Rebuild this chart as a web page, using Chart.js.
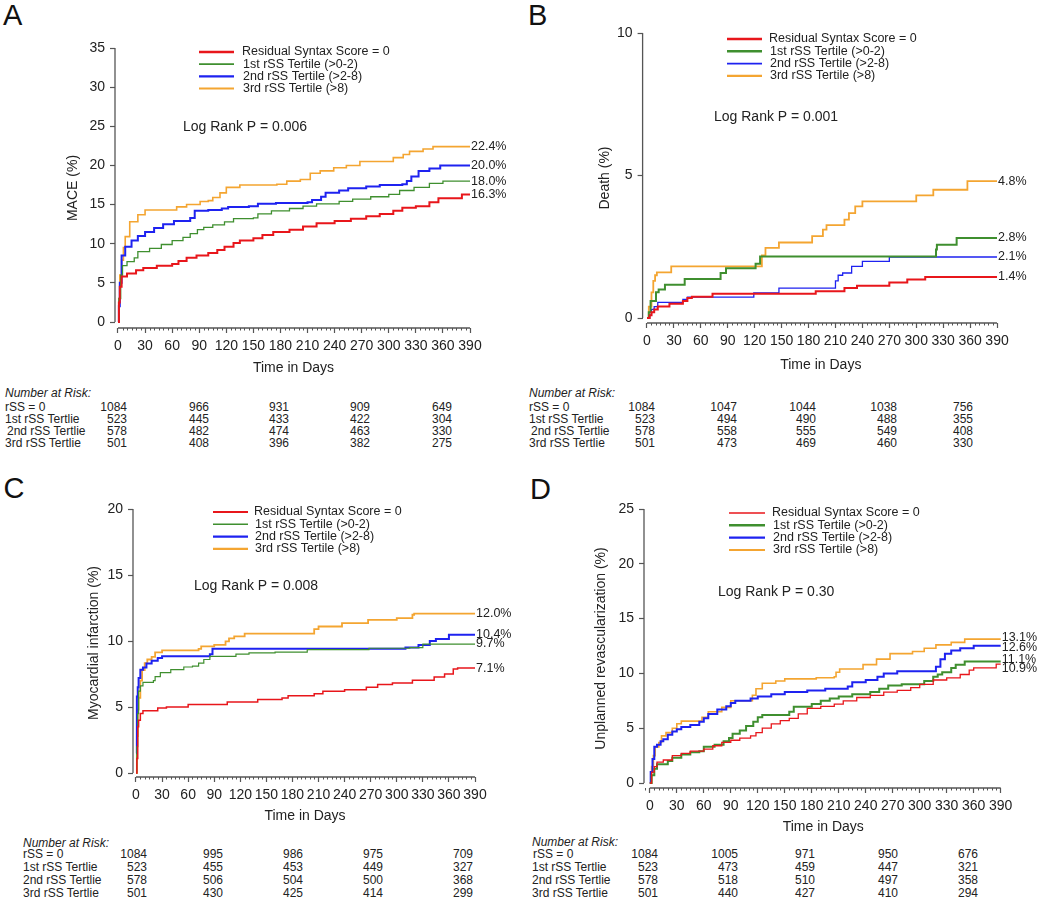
<!DOCTYPE html>
<html><head><meta charset="utf-8">
<script src="https://cdn.jsdelivr.net/npm/chart.js@4.4.1/dist/chart.umd.min.js"></script>
<style>
html,body{margin:0;padding:0;background:#fff;}
body{width:1050px;height:898px;position:relative;overflow:hidden;font-family:"Liberation Sans",Arial,sans-serif;color:#222;}
.abs{position:absolute;white-space:nowrap;}
.letter{font-size:29px;line-height:29px;color:#111;}
.rt{font-size:12px;line-height:12px;}
.num{text-align:right;width:60px;}
canvas{position:absolute;}
</style></head><body>
<script>
// ---------------- DATA ----------------
const seriesNames = ['Residual Syntax Score = 0', '1st rSS Tertile (>0-2)', '2nd rSS Tertile (>2-8)', '3rd rSS Tertile (>8)'];
const riskRowLabels = ['rSS = 0', '1st rSS Tertlie', '2nd rSS Tertlie', '3rd rSS Tertlie'];
const xTickStep = 30;

// Panel A: MACE (%)  [day, cumulative %]
const maceRss0 = [[0,0],[1,2.5],[2,4.5],[4,5.8],[10,6.2],[20,6.6],[28,6.9],[43,7.2],[60,7.4],[67,7.8],[76,8.2],[87,8.5],[100,8.8],[110,9.2],[118,9.6],[128,10.1],[135,10.4],[150,10.7],[160,11.1],[172,11.5],[190,11.8],[205,12.2],[220,12.6],[240,12.9],[258,13.2],[275,13.5],[290,13.8],[305,14.2],[315,14.6],[330,14.8],[345,15.3],[355,15.8],[381,16.3],[390,16.3]];
const maceT1 = [[0,0],[1,3],[3,6],[5,7.2],[10,7.7],[18,8.2],[22,9.0],[35,9.4],[48,9.9],[60,10.4],[72,10.8],[80,11.3],[88,11.8],[95,12.1],[105,12.4],[118,12.8],[128,13.2],[150,13.3],[155,13.8],[170,14.2],[190,14.5],[205,14.8],[220,15.1],[245,15.4],[260,15.7],[280,16.0],[300,16.3],[312,16.8],[328,17.2],[345,17.7],[360,18.0],[390,18.0]];
const maceT2 = [[0,0],[1,2],[2,5],[4,8.5],[8,9.6],[15,10.4],[22,11.0],[30,11.5],[40,12.0],[50,12.5],[62,12.9],[80,13.3],[85,14.2],[100,14.3],[115,14.5],[122,14.7],[145,14.8],[155,15.1],[175,15.2],[210,15.3],[215,15.6],[225,16.0],[230,16.5],[245,16.8],[255,17.1],[275,17.3],[290,17.5],[315,17.6],[320,18.0],[325,18.6],[333,19.3],[345,19.6],[357,20.0],[390,20.0]];
const maceT3 = [[0,0],[1,3],[2,6],[4,7.9],[6,9.5],[8,10.9],[13,12.8],[22,13.7],[30,14.3],[60,14.3],[65,14.7],[76,15.0],[91,15.4],[100,15.5],[105,15.9],[113,16.5],[120,17.2],[135,17.5],[176,17.6],[187,18.0],[202,18.2],[213,19.0],[224,19.3],[239,19.7],[253,20.0],[268,20.5],[294,20.5],[305,21.0],[316,21.4],[323,21.8],[338,22.1],[349,22.4],[390,22.4]];
const maceEndLabels = ['16.3%', '18.0%', '20.0%', '22.4%'];
const maceRisk0 = [1084, 966, 931, 909, 649];
const maceRisk1 = [523, 445, 433, 422, 304];
const maceRisk2 = [578, 482, 474, 463, 330];
const maceRisk3 = [501, 408, 396, 382, 275];

// Panel B: Death (%)
const deathRss0 = [[0,0],[3,0.1],[5,0.2],[8,0.3],[12,0.4],[25,0.5],[40,0.6],[45,0.7],[50,0.75],[73,0.85],[188,0.94],[220,1.05],[234,1.13],[270,1.25],[290,1.35],[310,1.44],[390,1.44]];
const deathT1 = [[0,0],[2,0.2],[4,0.6],[10,0.9],[13,1.0],[20,1.17],[42,1.37],[82,1.58],[88,1.75],[121,1.9],[126,2.16],[322,2.4],[323,2.57],[345,2.81],[390,2.81]];
const deathT2 = [[0,0],[3,0.1],[5,0.3],[8,0.4],[12,0.55],[40,0.65],[45,0.73],[119,0.88],[147,1.05],[210,1.3],[213,1.5],[218,1.58],[228,1.81],[240,1.99],[270,2.14],[390,2.14]];
const deathT3 = [[0,0],[2,0.4],[5,0.9],[7,1.3],[9,1.5],[11,1.6],[27,1.81],[125,1.81],[128,2.2],[132,2.46],[147,2.65],[184,2.87],[196,3.1],[200,3.26],[220,3.45],[225,3.68],[232,3.92],[240,4.09],[300,4.3],[319,4.5],[357,4.8],[390,4.8]];
const deathEndLabels = ['1.4%', '2.8%', '2.1%', '4.8%'];
const deathRisk0 = [1084, 1047, 1044, 1038, 756];
const deathRisk1 = [523, 494, 490, 488, 355];
const deathRisk2 = [578, 558, 555, 549, 408];
const deathRisk3 = [501, 473, 469, 460, 330];

// Panel C: Myocardial infarction (%)
const miRss0 = [[0,0],[1,1.1],[2,3.5],[3,4.0],[5,4.5],[8,4.72],[25,4.92],[35,5.0],[60,5.18],[105,5.38],[140,5.56],[168,5.68],[175,5.86],[205,6.0],[215,6.19],[240,6.31],[265,6.5],[278,6.7],[295,6.82],[318,7.02],[343,7.27],[355,7.5],[365,7.88],[370,7.95],[390,7.95]];
const miT1 = [[0,0],[1,2],[2,4.5],[3,6.2],[5,6.6],[8,6.87],[20,7.0],[22,7.3],[28,7.6],[40,7.83],[55,8.03],[65,8.1],[72,8.33],[78,8.6],[85,8.84],[115,9.0],[130,9.1],[160,9.15],[197,9.34],[268,9.45],[315,9.5],[330,9.77],[390,9.77]];
const miT2 = [[0,1.5],[1,5.8],[2,6.5],[3,7.2],[5,7.83],[8,8.0],[12,8.3],[18,8.5],[25,8.71],[30,8.85],[85,9.0],[88,9.42],[310,9.5],[325,9.7],[338,10.0],[345,10.15],[360,10.47],[390,10.47]];
const miT3 = [[0,0],[1,2.8],[2,4.8],[3,5.7],[5,7.0],[7,7.8],[10,8.33],[13,8.6],[18,8.8],[22,9.14],[30,9.29],[72,9.4],[75,9.6],[90,9.7],[103,9.97],[107,10.2],[113,10.35],[125,10.56],[205,10.9],[210,11.1],[237,11.36],[267,11.6],[300,11.74],[318,11.99],[320,12.07],[390,12.07]];
const miEndLabels = ['7.1%', '9.7%', '10.4%', '12.0%'];
const miRisk0 = [1084, 995, 986, 975, 709];
const miRisk1 = [523, 455, 453, 449, 327];
const miRisk2 = [578, 506, 504, 500, 368];
const miRisk3 = [501, 430, 425, 414, 299];

// Panel D: Unplanned revascularization (%)
const revRss0 = [[0,0],[2,1.0],[5,1.5],[8,1.9],[15,2.1],[25,2.5],[35,2.7],[45,2.9],[60,3.1],[70,3.4],[80,3.7],[90,3.9],[100,4.1],[112,4.3],[118,4.6],[125,5.0],[135,5.4],[145,5.7],[155,5.9],[165,6.3],[175,6.8],[190,7.0],[205,7.2],[215,7.5],[230,7.8],[245,8.0],[260,8.3],[275,8.45],[290,8.7],[300,9.0],[315,9.4],[330,9.6],[345,9.9],[355,10.3],[360,10.5],[385,10.85],[390,10.85]];
const revT1 = [[0,0],[2,0.7],[5,1.3],[8,1.7],[20,2.0],[25,2.3],[35,2.6],[45,2.8],[55,2.9],[60,3.3],[72,3.5],[82,3.8],[88,4.1],[92,4.5],[100,4.8],[107,5.2],[115,5.6],[120,6.0],[125,6.2],[155,6.5],[160,6.95],[180,7.2],[190,7.5],[200,7.7],[210,7.9],[225,8.1],[245,8.3],[255,8.6],[265,8.9],[280,9.0],[305,9.3],[315,9.7],[320,9.9],[325,10.1],[335,10.5],[340,10.8],[350,11.09],[390,11.09]];
const revT2 = [[0,0],[1,1.0],[3,2.2],[5,3.3],[8,3.5],[12,3.8],[15,4.0],[20,4.4],[25,4.7],[30,4.9],[35,5.1],[45,5.3],[55,5.6],[60,5.9],[65,6.3],[75,6.7],[85,7.0],[90,7.3],[95,7.5],[112,7.7],[120,7.9],[135,8.1],[150,8.3],[175,8.45],[195,8.6],[220,8.8],[225,9.2],[240,9.4],[253,9.7],[260,10.0],[275,10.2],[318,10.6],[323,11.3],[328,11.8],[335,12.1],[345,12.3],[360,12.52],[390,12.52]];
const revT3 = [[0,0],[2,1.5],[4,2.5],[6,3.3],[10,3.7],[13,4.3],[18,4.6],[25,5.0],[30,5.4],[35,5.65],[58,6.0],[65,6.5],[80,6.9],[90,7.5],[114,8.0],[118,8.6],[125,9.1],[140,9.3],[150,9.5],[185,9.6],[205,9.7],[207,10.1],[211,10.4],[237,10.8],[252,11.3],[267,11.8],[292,12.0],[305,12.3],[318,12.6],[335,12.83],[350,13.13],[390,13.13]];
const revEndLabels = ['10.9%', '11.1%', '12.6%', '13.1%'];
const revRisk0 = [1084, 1005, 971, 950, 676];
const revRisk1 = [523, 473, 459, 447, 321];
const revRisk2 = [578, 518, 510, 497, 358];
const revRisk3 = [501, 440, 427, 410, 294];

// ---------------- STYLE / LAYOUT ----------------
const COLORS = ['#e8161b', '#3f8f2f', '#1e22f0', '#f4a531'];
const FONT = '"Liberation Sans", Arial, Helvetica, sans-serif';
const AXIS_COLOR = '#555';
const TEXT_COLOR = '#222';

const panels = [
  { letter:'A', letterPos:[3,0.5],
    series:[maceRss0, maceT1, maceT2, maceT3], ends:maceEndLabels, widths:[2,1.3,2,1.6],
    box:{l:0,t:28,w:525,h:372}, area:{l:115,t:48,r:472,b:328},
    x:{min:-3.32,max:392.2}, y:{min:-0.766,max:35},
    yTitle:'MACE (%)', yTitleX:73, xTitleY:368,
    logRank:{text:'Log Rank P = 0.006', x:183, y:127},
    legend:{x1:199,x2:234,tx:242,y0:52,dy:12.2}, labelDy:[0,0,0,0],
    risk:{rows:[maceRisk0,maceRisk1,maceRisk2,maceRisk3], hx:5, hy:393, lx:[5,5,7,5], ys:[407,419,431,443], cols:[127,209,289,370,452]} },
  { letter:'B', letterPos:[528,0.5],
    series:[deathRss0, deathT1, deathT2, deathT3], ends:deathEndLabels, widths:[2,2,1.3,1.8],
    box:{l:525,t:18,w:525,h:372}, area:{l:642.6,t:33,r:999,b:323},
    x:{min:-4.9,max:392.2}, y:{min:-0.175,max:10},
    yTitle:'Death (%)', yTitleX:605, xTitleY:365,
    logRank:{text:'Log Rank P = 0.001', x:714, y:117},
    legend:{x1:727,x2:762,tx:769,y0:39,dy:12.3}, labelDy:[0,0,0,0],
    risk:{rows:[deathRisk0,deathRisk1,deathRisk2,deathRisk3], hx:529, hy:393, lx:[529,529,531,529], ys:[407,419,431,443], cols:[655,737,816,897,973]} },
  { letter:'C', letterPos:[3.5,473.5],
    series:[miRss0, miT1, miT2, miT3], ends:miEndLabels, widths:[1.5,1.2,2,1.8],
    box:{l:0,t:494,w:525,h:341}, area:{l:133,t:509,r:477,b:777},
    x:{min:-3.45,max:392.3}, y:{min:-0.303,max:20},
    yTitle:'Myocardial infarction (%)', yTitleX:94, xTitleY:816,
    logRank:{text:'Log Rank P = 0.008', x:194, y:586},
    legend:{x1:213,x2:248,tx:254,y0:512,dy:12.3}, labelDy:[0,0,0,0],
    risk:{rows:[miRisk0,miRisk1,miRisk2,miRisk3], hx:23, hy:843, lx:[23,23,23,23], ys:[854,867,880,893], cols:[147,223,303,383,473]} },
  { letter:'D', letterPos:[530,474.5],
    series:[revRss0, revT1, revT2, revT3], ends:revEndLabels, widths:[1.3,2,2,1.6],
    box:{l:525,t:494,w:525,h:346}, area:{l:644,t:509,r:1002.5,b:788},
    x:{min:-6.45,max:392}, y:{min:-0.456,max:25},
    yTitle:'Unplanned revascularization (%)', yTitleX:601, xTitleY:827,
    logRank:{text:'Log Rank P = 0.30', x:718, y:592},
    legend:{x1:729,x2:765,tx:772,y0:513,dy:12.3}, labelDy:[4,-2,2,-2],
    risk:{rows:[revRisk0,revRisk1,revRisk2,revRisk3], hx:532, hy:842, lx:[533,532,532,532], ys:[854,867,880,893], cols:[658,738,815,898,978]} }
];

function addText(text, left, top, cls, extra) {
  const d = document.createElement('div');
  d.className = 'abs ' + cls;
  d.textContent = text;
  d.style.left = left + 'px';
  d.style.top = top + 'px';
  if (extra) Object.assign(d.style, extra);
  document.body.appendChild(d);
  return d;
}

const annotPlugin = {
  id: 'kmAnnot',
  afterDatasetsDraw(chart) {
    const p = chart.options.plugins.kmAnnot.panel;
    const ctx = chart.ctx;
    const xs = chart.scales.x, ys = chart.scales.y;
    const ox = p.box.l, oy = p.box.t;
    ctx.save();
    // axis lines (R-style, spanning tick range)
    ctx.strokeStyle = AXIS_COLOR; ctx.lineWidth = 1.3;
    ctx.beginPath();
    ctx.moveTo(chart.chartArea.left, ys.getPixelForValue(0));
    ctx.lineTo(chart.chartArea.left, ys.getPixelForValue(p.y.max));
    ctx.stroke();
    ctx.beginPath();
    ctx.moveTo(xs.getPixelForValue(0), chart.chartArea.bottom);
    ctx.lineTo(xs.getPixelForValue(390), chart.chartArea.bottom);
    ctx.stroke();
    // minor x ticks
    ctx.lineWidth = 1;
    xs.ticks.forEach(t => {
      if (t.value % xTickStep !== 0) {
        const px = Math.round(xs.getPixelForValue(t.value)) + 0.5;
        ctx.beginPath();
        ctx.moveTo(px, chart.chartArea.bottom);
        ctx.lineTo(px, chart.chartArea.bottom + 2.5);
        ctx.stroke();
      }
    });
    // legend
    ctx.textBaseline = 'middle'; ctx.textAlign = 'left';
    ctx.font = '12.5px ' + FONT;
    chart.data.datasets.forEach((ds, i) => {
      const y = p.legend.y0 + i * p.legend.dy - oy;
      ctx.strokeStyle = ds.borderColor; ctx.lineWidth = ds.borderWidth + 0.4;
      ctx.beginPath(); ctx.moveTo(p.legend.x1 - ox, y); ctx.lineTo(p.legend.x2 - ox, y); ctx.stroke();
      ctx.fillStyle = TEXT_COLOR;
      ctx.fillText(ds.label, p.legend.tx - ox + (i > 0 ? 1 : 0), y);
    });
    // log rank
    ctx.font = '14px ' + FONT;
    ctx.fillText(p.logRank.text, p.logRank.x - ox, p.logRank.y - oy);
    // end labels
    ctx.font = '12.5px ' + FONT;
    chart.data.datasets.forEach((ds, i) => {
      const last = ds.data[ds.data.length - 1];
      const px = xs.getPixelForValue(last.x);
      const py = ys.getPixelForValue(last.y) + p.labelDy[i];
      ctx.fillText(p.ends[i], px + 1, py);
    });
    ctx.restore();
  }
};

const LH = 14 * 1.2;

panels.forEach(p => {
  addText(p.letter, p.letterPos[0], p.letterPos[1], 'letter');
  addText('Number at Risk:', p.risk.hx, p.risk.hy - 6, 'rt', {fontStyle:'italic'});
  p.risk.rows.forEach((row, r) => {
    addText(riskRowLabels[r], p.risk.lx[r], p.risk.ys[r] - 6, 'rt');
    row.forEach((v, c) => addText(String(v), p.risk.cols[c] - 60, p.risk.ys[r] - 6, 'rt num'));
  });

  const canvas = document.createElement('canvas');
  canvas.width = p.box.w; canvas.height = p.box.h;
  canvas.style.left = p.box.l + 'px'; canvas.style.top = p.box.t + 'px';
  canvas.style.width = p.box.w + 'px'; canvas.style.height = p.box.h + 'px';
  document.body.appendChild(canvas);

  const yWidth = p.area.l - p.box.l;
  const xHeight = p.xTitleY + LH / 2 - p.area.b;
  const padTop = p.area.t - p.box.t;
  const padRight = p.box.l + p.box.w - p.area.r;
  const padBottom = p.box.t + p.box.h - p.area.b - xHeight;

  new Chart(canvas, {
    type: 'line',
    data: {
      datasets: p.series.map((s, i) => ({
        label: seriesNames[i],
        data: s.map(pt => ({x: pt[0], y: pt[1]})),
        borderColor: COLORS[i],
        backgroundColor: COLORS[i],
        borderWidth: p.widths[i],
        stepped: 'before',
        pointRadius: 0,
        fill: false
      }))
    },
    options: {
      responsive: false,
      animation: false,
      devicePixelRatio: 1,
      layout: { padding: { left: 0, top: padTop, right: padRight, bottom: padBottom } },
      plugins: { legend: { display: false }, tooltip: { enabled: false }, kmAnnot: { panel: p } },
      scales: {
        x: {
          type: 'linear', min: p.x.min, max: p.x.max,
          border: { display: false },
          grid: { drawOnChartArea: false, drawTicks: true, tickLength: 5, tickWidth: 1.2,
                  tickColor: c => (c.tick && c.tick.value % xTickStep === 0) ? AXIS_COLOR : 'rgba(0,0,0,0)' },
          ticks: { stepSize: 5, includeBounds: false, autoSkip: false, maxRotation: 0, minRotation: 0,
                   padding: 5, color: '#222', font: { family: FONT, size: 14 },
                   callback: v => (v % xTickStep === 0 ? String(v) : '') },
          title: { display: true, text: 'Time in Days', color: '#222', font: { family: FONT, size: 14 }, padding: 0 },
          afterFit: s => { s.height = xHeight; }
        },
        y: {
          type: 'linear', min: p.y.min, max: p.y.max,
          border: { display: false },
          grid: { drawOnChartArea: false, drawTicks: true, tickLength: 5, tickWidth: 1.2, tickColor: AXIS_COLOR },
          ticks: { stepSize: 5, includeBounds: false, padding: 5, color: '#222', font: { family: FONT, size: 14 } },
          title: { display: true, text: p.yTitle, color: '#222', font: { family: FONT, size: 14 },
                   padding: { top: p.yTitleX - p.box.l - LH / 2, bottom: 0 } },
          afterFit: s => { s.width = yWidth; }
        }
      }
    },
    plugins: [annotPlugin]
  });
});
</script>
</body></html>
